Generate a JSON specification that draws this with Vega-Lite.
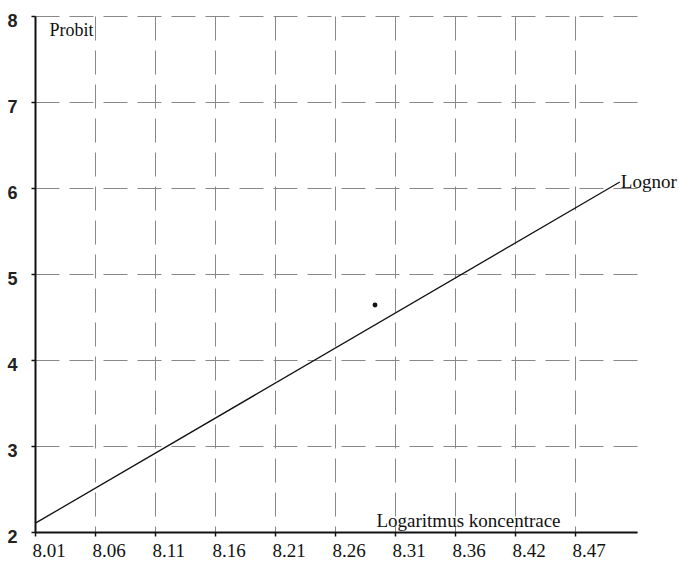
{
  "$schema": "https://vega.github.io/schema/vega-lite/v6.json",
  "width": 602,
  "height": 516,
  "autosize": "none",
  "padding": {"left": 35, "top": 16, "right": 42, "bottom": 30},
  "background": "white",
  "config": {"view": {"stroke": null}},
  "datasets": {
    "line": [{"x": 8.01, "y": 2.1}, {"x": 8.51, "y": 6.07}],
    "point": [{"x": 8.3007, "y": 4.64}],
    "label": [{"x": 8.51, "y": 6.07, "text": "Lognor"}]
  },
  "layer": [
    {
      "data": {"name": "line"},
      "mark": {"type": "line", "color": "#111", "strokeWidth": 1.3},
      "encoding": {
        "x": {
          "field": "x", "type": "quantitative",
          "scale": {"domain": [8.01, 8.5247], "nice": false, "zero": false},
          "axis": {
            "values": [8.01, 8.0613, 8.1126, 8.1639, 8.2152, 8.2665, 8.3178, 8.3691, 8.4204, 8.4717],
            "labelExpr": "format(floor(datum.value*100+0.000001)/100, '.2f')",
            "labelFont": "Liberation Serif", "labelFontSize": 19, "labelColor": "#111",
            "labelAlign": "left", "labelOffset": -3, "labelBaseline": "top",
            "labelPadding": 5, "labelFlush": false,
            "domainColor": "#111", "domainWidth": 2,
            "tickColor": "#111", "tickSize": 4, "tickWidth": 1.5,
            "grid": true, "gridColor": "#888", "gridDash": [24, 10], "gridWidth": 1,
            "title": "Logaritmus koncentrace",
            "titleFont": "Liberation Serif", "titleFontSize": 19, "titleFontWeight": "normal", "titleColor": "#111",
            "titleX": 433, "titleY": -6, "titleAlign": "center", "titleBaseline": "alphabetic"
          }
        },
        "y": {
          "field": "y", "type": "quantitative",
          "scale": {"domain": [2, 8], "nice": false, "zero": false},
          "axis": {
            "values": [2, 3, 4, 5, 6, 7, 8],
            "format": "d",
            "labelFont": "Liberation Sans", "labelFontSize": 18, "labelFontWeight": "bold", "labelColor": "#222",
            "labelPadding": 14, "labelOffset": 5,
            "domainColor": "#111", "domainWidth": 2,
            "tickColor": "#111", "tickSize": 4, "tickWidth": 1.5,
            "grid": true, "gridColor": "#888", "gridDash": [24, 10], "gridWidth": 1,
            "title": "Probit",
            "titleFont": "Liberation Serif", "titleFontSize": 18, "titleFontWeight": "normal", "titleColor": "#111",
            "titleAngle": 0, "titleX": 14, "titleY": 5, "titleAlign": "left", "titleBaseline": "top"
          }
        }
      }
    },
    {
      "data": {"name": "point"},
      "mark": {"type": "circle", "color": "#111", "size": 24, "opacity": 1},
      "encoding": {
        "x": {"field": "x", "type": "quantitative"},
        "y": {"field": "y", "type": "quantitative"}
      }
    },
    {
      "data": {"name": "label"},
      "mark": {"type": "text", "align": "left", "baseline": "middle", "dx": 1, "font": "Liberation Serif", "fontSize": 19, "color": "#111"},
      "encoding": {
        "x": {"field": "x", "type": "quantitative"},
        "y": {"field": "y", "type": "quantitative"},
        "text": {"field": "text"}
      }
    }
  ]
}
